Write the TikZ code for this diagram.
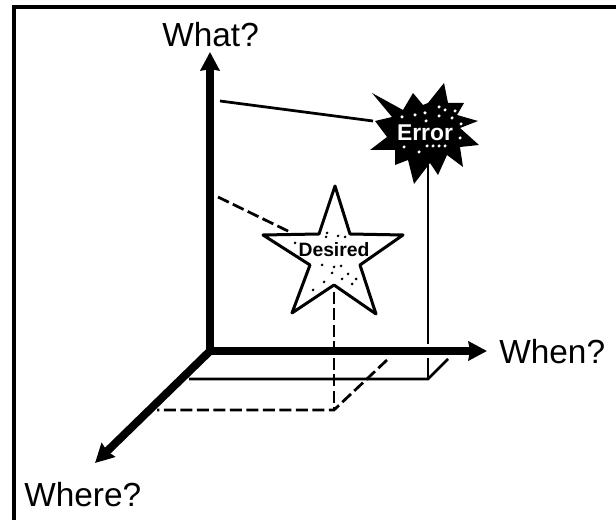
\documentclass[tikz,border=0pt]{standalone}
\usepackage{fontspec}
\setmainfont{Liberation Sans}
\usetikzlibrary{arrows.meta, positioning}

\begin{document}
\begin{tikzpicture}[
    x=0.02cm, y=-0.02cm,
    >={Stealth[length=0.37cm, width=0.38cm, inset=0.03cm]},
    axis/.style={->, line width=0.16cm},
    guide/.style={line width=0.055cm},
    guidedash/.style={guide, dash pattern=on 0.24cm off 0.09cm},
    axislabel/.style={font=\fontsize{19}{19}\selectfont, inner sep=0pt, anchor=base west}
  ]
  \useasboundingbox (0,0) rectangle (616,520);

  % Frame
  \draw[line width=0.075cm] (14,520) -- (14,7) -- (616,7);

  % Axes ends
  \coordinate (origin) at (210,351);
  \coordinate (whattip) at (210,52);
  \coordinate (whentip) at (487,351);
  \coordinate (wheretip) at (95,463);

  % Guide line ends
  \coordinate (errorfoot) at (428,379);
  \coordinate (errorback) at (448,359);
  \coordinate (errorleft) at (189,379);
  \coordinate (desiredfoot) at (334,410);
  \coordinate (desiredback) at (387,360);
  \coordinate (desiredleft) at (157,410);

  % Error burst
  \fill[line join=round] (444,83) -- (448,103) -- (464,103) -- (457,115) -- (478,121)
    -- (460,128) -- (479,145) -- (460,147) -- (463,167) -- (447,155) -- (438,175)
    -- (430,163) -- (414,184) -- (408,160) -- (395,165) -- (395,150) -- (370,150)
    -- (387,137) -- (375,121) -- (392,117) -- (372,93) -- (403,110) -- (413,93)
    -- (423,105) -- (428,103) -- cycle;
  \foreach \x/\y in {415/115, 425/113, 426/121, 439/116, 452/118, 455/111, 445/110,
                     461/124, 460/138, 404/147, 419/152, 427/146, 433/146, 439/146,
                     445/146, 402/117, 439/107}
    \fill[white] (\x,\y) circle (0.035cm);
  \node[font=\bfseries\fontsize{13}{13}\selectfont, text=white, inner sep=0pt] (error) at (425,133) {Error};

  % Desired star
  \draw[line width=0.06cm, line join=round] (335,186) -- (350,234) -- (403,235) -- (360,265)
    -- (376,314) -- (334,285) -- (292,313) -- (310,265) -- (263,235) -- (319,234) -- cycle;
  \foreach \x/\y in {322/265, 334/267, 341/266, 332/273, 348/274, 342/279, 356/279,
                     352/284, 324/282, 313/290, 327/233, 326/237, 338/236, 345/237, 295/243}
    \fill (\x,\y) circle (0.03cm);
  \node[font=\bfseries\fontsize{11}{11}\selectfont, inner sep=0pt] (desired) at (334,250) {Desired};

  % Guide lines
  \coordinate (errorarm) at (220,101);
  \coordinate (errortip) at (373,121);
  \coordinate (errordrop) at (428,165);
  \coordinate (axisabove) at (428,344);
  \coordinate (axisbelow) at (428,358);
  \draw[guide] (errorarm) -- (errortip);
  \draw[guide] (errordrop) -- (axisabove);
  \draw[guide] (axisbelow) -- (errorfoot);
  \draw[guide] (errorleft) -- (errorfoot) -- (errorback);

  \coordinate (desiredarm) at (218,197);
  \coordinate (desiredtip) at (292,233);
  \coordinate (desireddrop) at (334,292);
  \draw[guidedash] (desiredarm) -- (desiredtip);
  \draw[guidedash] (desireddrop) -- (desiredfoot);
  \draw[guidedash] (desiredback) -- (desiredfoot) -- (desiredleft);

  % Axes
  \draw[axis] (origin) -- (whattip);
  \draw[axis] (origin) -- (whentip);
  \draw[axis] (origin) -- (wheretip);

  % Labels
  \node[axislabel] (what) at (162,47) {What?};
  \node[axislabel] (when) at (499,364) {When?};
  \node[axislabel] (where) at (24,507) {Where?};
\end{tikzpicture}
\end{document}
